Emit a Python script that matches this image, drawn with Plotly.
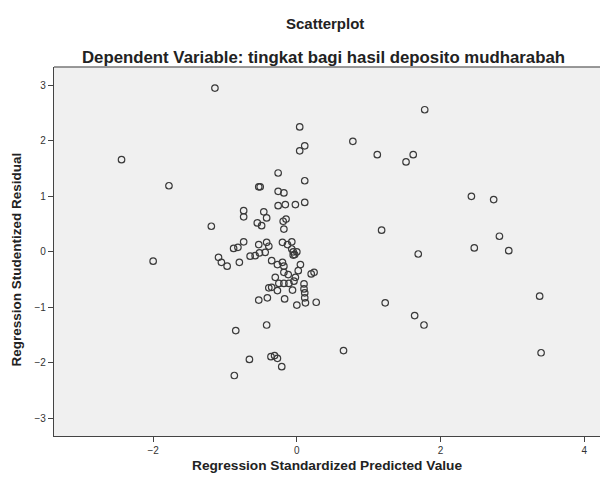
import plotly.graph_objects as go

# Regression Standardized Predicted Value
pred = [-1.14, -2.44, -1.78, -1.19, -2.00, -1.09, -1.05, -0.97, -0.88, -0.82,
        -0.80, -0.85, -0.87, 1.78, 0.78, 1.12, 1.62, 1.52, 2.43, 2.74,
        1.18, 2.82, 2.47, 2.95, 1.69, 3.38, 1.23, 1.64, 1.77, 0.65,
        3.40, 0.04, 0.04, 0.11, -0.26, 0.11, -0.53, -0.51, -0.26, -0.18,
        -0.74, -0.74, -0.46, -0.42, -0.55, -0.49, -0.26, -0.16, -0.02, 0.11,
        -0.15, -0.19, -0.18, -0.74, -0.65, -0.58, -0.52, -0.53, -0.42, -0.39,
        -0.44, -0.35, -0.27, -0.20, -0.18, -0.20, -0.13, -0.07, -0.07, -0.05,
        -0.03, 0.00, -0.05, 0.05, 0.02, 0.20, 0.24, -0.30, -0.18, -0.12,
        -0.02, -0.04, -0.25, -0.18, -0.39, -0.35, -0.27, -0.11, -0.06, 0.10,
        0.10, -0.53, -0.41, -0.17, 0.00, 0.12, 0.27, 0.11, 0.11, -0.42,
        -0.66, -0.36, -0.31, -0.27, -0.21]

# Regression Studentized Residual
resid = [2.95, 1.66, 1.19, 0.46, -0.17, -0.10, -0.19, -0.26, 0.06, 0.08,
         -0.19, -1.42, -2.23, 2.56, 1.99, 1.75, 1.75, 1.62, 1.00, 0.94,
         0.39, 0.28, 0.07, 0.02, -0.04, -0.80, -0.92, -1.15, -1.32, -1.78,
         -1.82, 2.25, 1.82, 1.91, 1.42, 1.28, 1.17, 1.17, 1.09, 1.06,
         0.74, 0.63, 0.72, 0.61, 0.52, 0.47, 0.83, 0.85, 0.85, 0.89,
         0.59, 0.55, 0.41, 0.18, -0.08, -0.07, -0.02, 0.13, 0.17, 0.10,
         -0.01, -0.16, -0.23, -0.19, -0.26, 0.17, 0.13, 0.18, 0.05, 0.00,
         -0.05, 0.00, -0.06, -0.23, -0.34, -0.40, -0.37, -0.46, -0.37, -0.41,
         -0.46, -0.53, -0.57, -0.57, -0.65, -0.64, -0.70, -0.57, -0.69, -0.58,
         -0.67, -0.87, -0.83, -0.85, -0.96, -0.92, -0.91, -0.74, -0.83, -1.32,
         -1.94, -1.89, -1.87, -1.92, -2.07]

x_ticks = [-2, 0, 2, 4]
y_ticks = [-3, -2, -1, 0, 1, 2, 3]

title_text = "Scatterplot"
subtitle_text = "Dependent Variable: tingkat bagi hasil deposito mudharabah"
x_title = "Regression Standardized Predicted Value"
y_title = "Regression Studentized Residual"

FONT = "Arial, Liberation Sans, sans-serif"
AX = "#444444"

fig = go.Figure()
fig.add_trace(go.Scatter(
    x=pred, y=resid, mode="markers",
    marker=dict(symbol="circle-open", size=6.5, color="#3a3a3a",
                line=dict(width=1.2, color="#3a3a3a")),
    hoverinfo="x+y", showlegend=False,
))

fig.update_layout(
    width=600, height=480,
    margin=dict(l=54, r=0, t=67, b=44),
    paper_bgcolor="white", plot_bgcolor="#F0F0F0",
    font=dict(family=FONT, color="#333333"),
    xaxis=dict(range=[-3.38, 4.22], tickvals=x_ticks, showgrid=False, zeroline=False,
               showline=True, linecolor=AX, linewidth=1.3, ticks="outside", ticklen=5,
               tickcolor=AX, tickfont=dict(size=10, color="#333333", family=FONT)),
    yaxis=dict(range=[-3.32, 3.33], tickvals=y_ticks, showgrid=False, zeroline=False,
               showline=True, linecolor=AX, linewidth=1.3, ticks="outside", ticklen=5,
               tickcolor=AX, tickfont=dict(size=10, color="#333333", family=FONT)),
    shapes=[dict(type="line", xref="paper", yref="paper", x0=0, x1=1, y0=1, y1=1,
                 line=dict(color="#777777", width=1.3))],
    annotations=[
        dict(text="<b>" + title_text + "</b>", xref="paper", yref="paper",
             x=0.496, y=1.117, showarrow=False, xanchor="center", yanchor="middle",
             font=dict(size=15, color="#222222", family=FONT)),
        dict(text="<b>" + subtitle_text + "</b>", xref="paper", yref="paper",
             x=0.494, y=1.027, showarrow=False, xanchor="center", yanchor="middle",
             font=dict(size=16.8, color="#222222", family=FONT)),
        dict(text="<b>" + x_title + "</b>", xref="paper", yref="paper",
             x=0.5, y=-0.081, showarrow=False, xanchor="center", yanchor="middle",
             font=dict(size=13.7, color="#222222", family=FONT)),
        dict(text="<b>" + y_title + "</b>", xref="paper", yref="paper",
             x=-0.068, y=0.478, showarrow=False, xanchor="center", yanchor="middle",
             textangle=-90, font=dict(size=13.5, color="#222222", family=FONT)),
    ],
)

fig.write_html("out.html")
